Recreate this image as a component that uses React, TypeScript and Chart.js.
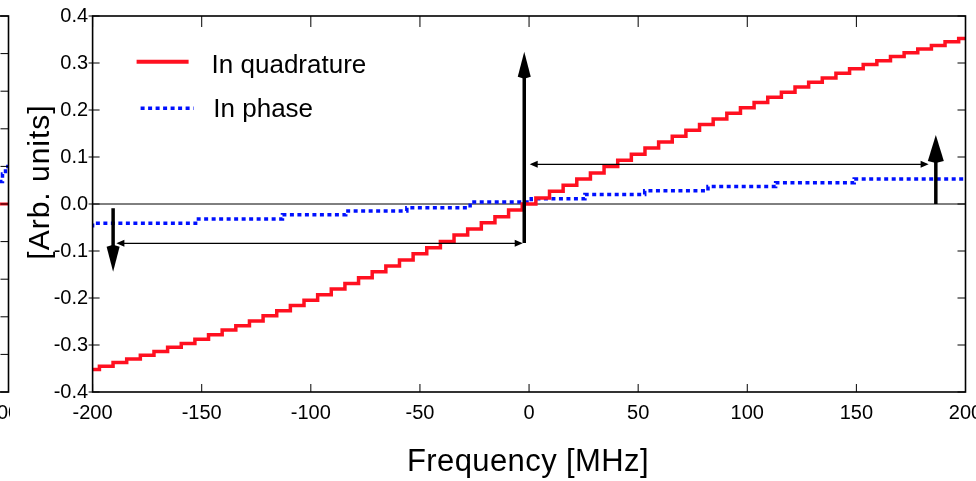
import React, { useEffect, useRef } from 'react';
import { Chart, registerables } from 'chart.js';

Chart.register(...registerables);

const FONT = '"Liberation Sans", Arial, Helvetica, sans-serif';
const RED = 'rgb(255, 16, 32)';
const BLUE = 'rgb(0, 16, 255)';

// ---- main panel data ----
const quadFreq = [
  -200, -193.75, -187.5, -181.25, -175, -168.75, -162.5, -156.25, -150, -143.75, -137.5, -131.25,
  -125, -118.75, -112.5, -106.25, -100, -93.75, -87.5, -81.25, -75, -68.75, -62.5, -56.25, -50,
  -43.75, -37.5, -31.25, -25, -18.75, -12.5, -6.25, 0, 6.25, 12.5, 18.75, 25, 31.25, 37.5, 43.75,
  50, 56.25, 62.5, 68.75, 75, 81.25, 87.5, 93.75, 100, 106.25, 112.5, 118.75, 125, 131.25, 137.5,
  143.75, 150, 156.25, 162.5, 168.75, 175, 181.25, 187.5, 193.75, 200,
];
const quadValues = [
  -0.352, -0.345, -0.337, -0.33, -0.322, -0.314, -0.305, -0.297, -0.288, -0.278, -0.268, -0.259,
  -0.249, -0.238, -0.227, -0.216, -0.205, -0.193, -0.181, -0.169, -0.157, -0.144, -0.132, -0.119,
  -0.106, -0.093, -0.08, -0.066, -0.053, -0.04, -0.027, -0.013, 0.0, 0.013, 0.027, 0.04, 0.053,
  0.066, 0.08, 0.093, 0.106, 0.119, 0.132, 0.144, 0.157, 0.169, 0.181, 0.193, 0.205, 0.216, 0.227,
  0.238, 0.249, 0.259, 0.268, 0.278, 0.288, 0.297, 0.305, 0.314, 0.322, 0.33, 0.337, 0.345, 0.352,
];
const phaseFreq = [-200, -151.5, -113, -84, -56, -27, 1, 25.6, 53, 82, 113, 149, 194, 200];
const phaseValues = [
  -0.05, -0.041, -0.032, -0.023, -0.015, -0.008, 0.004, 0.011, 0.02, 0.028, 0.037, 0.045, 0.053, 0.053,
];

const xTicks = [-200, -150, -100, -50, 0, 50, 100, 150, 200];
const xTickLabels = ['-200', '-150', '-100', '-50', '0', '50', '100', '150', '200'];
const yTicks = [-0.4, -0.3, -0.2, -0.1, 0, 0.1, 0.2, 0.3, 0.4];
const yTickLabels = ['-0.4', '-0.3', '-0.2', '-0.1', '0.0', '0.1', '0.2', '0.3', '0.4'];

// annotations (data coordinates)
const zeroLevel = [0];
const upArrowFreq = [-2.2, 186.4];
const upArrowFrom = [-0.083, 0];
const upArrowTo = [0.324, 0.147];
const downArrowFreq = [-190.6];
const downArrowFrom = [-0.009];
const downArrowTo = [-0.144];
const spanLevel = [0.0845, -0.0836];
const spanStart = [0.3, -189.1];
const spanEnd = [183.1, -2.9];

const legendLabels = ['In quadrature', 'In phase'];
const xTitle = 'Frequency [MHz]';
const yTitle = '[Arb. units]';

// ---- neighbouring (cropped) left panel ----
const leftFreq = [170, 180, 190, 200, 206, 212];
const leftQuad = [0, 0, 0, 0, 0, 0];
const leftPhase = [0.03, 0.04, 0.05, 0.06, 0.08, 0.1];
const leftYTicks = [-0.5, -0.4, -0.3, -0.2, -0.1, 0, 0.1, 0.2, 0.3, 0.4, 0.5];
const leftXTicks = [200];
const leftXTickLabels = ['200'];

function frameAndTicks(chart: any, opts: { left?: boolean; right?: boolean; top?: boolean; bottom?: boolean }) {
  const { ctx, chartArea: a, scales } = chart;
  const x = scales.x;
  const y = scales.y;
  ctx.save();
  ctx.strokeStyle = '#000';
  ctx.lineWidth = 1;
  ctx.beginPath();
  for (const t of x.ticks) {
    const px = x.getPixelForValue(t.value);
    if (opts.bottom) {
      ctx.moveTo(px, a.bottom);
      ctx.lineTo(px, a.bottom - 8);
    }
    if (opts.top) {
      ctx.moveTo(px, a.top);
      ctx.lineTo(px, a.top + 11);
    }
  }
  for (const t of y.ticks) {
    const py = y.getPixelForValue(t.value);
    if (opts.left) {
      ctx.moveTo(a.left - 4, py);
      ctx.lineTo(a.left + 7, py);
    }
    if (opts.right) {
      ctx.moveTo(a.right - 8, py);
      ctx.lineTo(a.right, py);
    }
  }
  ctx.stroke();
  ctx.lineWidth = 1.6;
  ctx.strokeRect(a.left, a.top, a.right - a.left, a.bottom - a.top);
  ctx.restore();
}

function thickArrow(ctx: CanvasRenderingContext2D, px: number, y1: number, y2: number, headLen: number, headW: number) {
  const dir = Math.sign(y2 - y1);
  const base = y2 - dir * headLen;
  ctx.lineWidth = 3.5;
  ctx.beginPath();
  ctx.moveTo(px, y1);
  ctx.lineTo(px, base + dir * 2);
  ctx.stroke();
  ctx.beginPath();
  ctx.moveTo(px, y2);
  ctx.lineTo(px - headW / 2, base);
  ctx.lineTo(px, base - dir * 2);
  ctx.lineTo(px + headW / 2, base);
  ctx.closePath();
  ctx.fill();
}

function spanArrow(ctx: CanvasRenderingContext2D, x1: number, x2: number, py: number) {
  const hl = 8;
  const hw = 3.5;
  ctx.lineWidth = 1.2;
  ctx.beginPath();
  ctx.moveTo(x1 + 2, py);
  ctx.lineTo(x2 - 2, py);
  ctx.stroke();
  ctx.beginPath();
  ctx.moveTo(x1, py);
  ctx.lineTo(x1 + hl, py - hw);
  ctx.lineTo(x1 + hl, py + hw);
  ctx.closePath();
  ctx.moveTo(x2, py);
  ctx.lineTo(x2 - hl, py - hw);
  ctx.lineTo(x2 - hl, py + hw);
  ctx.closePath();
  ctx.fill();
}

const mainDecor = {
  id: 'mainDecor',
  beforeDatasetsDraw(chart: any) {
    const { ctx, chartArea: a, scales } = chart;
    const y0 = scales.y.getPixelForValue(zeroLevel[0]);
    ctx.save();
    ctx.strokeStyle = '#000';
    ctx.lineWidth = 1;
    ctx.beginPath();
    ctx.moveTo(a.left, y0);
    ctx.lineTo(a.right, y0);
    ctx.stroke();
    ctx.restore();
  },
  afterDatasetsDraw(chart: any) {
    const { ctx, scales } = chart;
    const x = scales.x;
    const y = scales.y;
    ctx.save();
    ctx.strokeStyle = '#000';
    ctx.fillStyle = '#000';
    for (let i = 0; i < spanLevel.length; i++) {
      spanArrow(ctx, x.getPixelForValue(spanStart[i]), x.getPixelForValue(spanEnd[i]), y.getPixelForValue(spanLevel[i]));
    }
    for (let i = 0; i < upArrowFreq.length; i++) {
      thickArrow(
        ctx,
        x.getPixelForValue(upArrowFreq[i]),
        y.getPixelForValue(upArrowFrom[i]),
        y.getPixelForValue(upArrowTo[i]),
        i === 0 ? 25 : 26,
        i === 0 ? 13 : 16,
      );
    }
    for (let i = 0; i < downArrowFreq.length; i++) {
      thickArrow(
        ctx,
        x.getPixelForValue(downArrowFreq[i]),
        y.getPixelForValue(downArrowFrom[i]),
        y.getPixelForValue(downArrowTo[i]),
        25,
        13,
      );
    }
    ctx.restore();
  },
  afterDraw(chart: any) {
    const { ctx, chartArea: a } = chart;
    frameAndTicks(chart, { left: true, right: true, top: true, bottom: true });
    ctx.save();
    // legend
    const lx = a.left + 44;
    ctx.lineWidth = 4;
    ctx.strokeStyle = RED;
    ctx.beginPath();
    ctx.moveTo(lx, a.top + 45.7);
    ctx.lineTo(lx + 52, a.top + 45.7);
    ctx.stroke();
    ctx.strokeStyle = BLUE;
    ctx.lineWidth = 3.5;
    ctx.setLineDash([4, 3.5]);
    ctx.beginPath();
    ctx.moveTo(lx + 4, a.top + 92.3);
    ctx.lineTo(lx + 57, a.top + 92.3);
    ctx.stroke();
    ctx.setLineDash([]);
    ctx.fillStyle = '#000';
    ctx.font = `26px ${FONT}`;
    ctx.textAlign = 'left';
    ctx.textBaseline = 'alphabetic';
    ctx.fillText(legendLabels[0], a.left + 119, a.top + 56.7);
    ctx.fillText(legendLabels[1], a.left + 120.7, a.top + 100.5);
    // axis titles
    ctx.textAlign = 'center';
    ctx.font = `31px ${FONT}`;
    (ctx as any).letterSpacing = '0.4px';
    ctx.fillText(xTitle, 528, 471);
    ctx.translate(49, 182);
    ctx.rotate(-Math.PI / 2);
    ctx.font = `30px ${FONT}`;
    (ctx as any).letterSpacing = '1px';
    ctx.fillText(yTitle, 0, 0);
    ctx.restore();
  },
};

const leftDecor = {
  id: 'leftDecor',
  afterDraw(chart: any) {
    frameAndTicks(chart, { right: true });
  },
};

export default function App() {
  const mainRef = useRef<HTMLCanvasElement | null>(null);
  const leftRef = useRef<HTMLCanvasElement | null>(null);

  useEffect(() => {
    if (!mainRef.current || !leftRef.current) return;
    const tickFont = { family: FONT, size: 20 };

    const main = new Chart(mainRef.current, {
      type: 'line',
      data: {
        datasets: [
          {
            label: legendLabels[0],
            data: quadFreq.map((f, i) => ({ x: f, y: quadValues[i] })),
            borderColor: RED,
            borderWidth: 3.5,
            stepped: 'middle',
            pointRadius: 0,
            fill: false,
          },
          {
            label: legendLabels[1],
            data: phaseFreq.map((f, i) => ({ x: f, y: phaseValues[i] })),
            borderColor: BLUE,
            borderWidth: 3.5,
            borderDash: [4, 3.5],
            stepped: 'after',
            pointRadius: 0,
            fill: false,
          },
        ],
      },
      options: {
        animation: false,
        responsive: false,
        devicePixelRatio: 1,
        layout: { padding: { left: 0, right: 10.5, top: 16, bottom: 0 } },
        plugins: { legend: { display: false }, tooltip: { enabled: false } },
        scales: {
          x: {
            type: 'linear',
            min: -200,
            max: 200,
            grid: { display: false, drawTicks: false },
            border: { display: false },
            ticks: {
              font: tickFont,
              color: '#000',
              padding: 9,
              maxRotation: 0,
              autoSkip: false,
              callback: (_v: any, i: number) => xTickLabels[i],
            },
            afterBuildTicks: (s: any) => {
              s.ticks = xTicks.map((v) => ({ value: v }));
            },
            afterFit: (s: any) => {
              s.height = 89;
              s.paddingLeft = 0;
              s.paddingRight = 0;
            },
          },
          y: {
            type: 'linear',
            min: -0.4,
            max: 0.4,
            grid: { display: false, drawTicks: false },
            border: { display: false },
            ticks: {
              font: tickFont,
              color: '#000',
              padding: 4.5,
              autoSkip: false,
              callback: (_v: any, i: number) => yTickLabels[i],
            },
            afterBuildTicks: (s: any) => {
              s.ticks = yTicks.map((v) => ({ value: v }));
            },
            afterFit: (s: any) => {
              s.width = 92.6;
              s.paddingTop = 0;
              s.paddingBottom = 0;
            },
          },
        },
      },
      plugins: [mainDecor],
    } as any);

    const left = new Chart(leftRef.current, {
      type: 'line',
      data: {
        datasets: [
          {
            data: leftFreq.map((f, i) => ({ x: f, y: leftQuad[i] })),
            borderColor: RED,
            borderWidth: 3,
            pointRadius: 0,
            fill: false,
          },
          {
            data: leftFreq.map((f, i) => ({ x: f, y: leftPhase[i] })),
            borderColor: BLUE,
            borderWidth: 3.5,
            borderDash: [4, 3.5],
            stepped: 'after',
            pointRadius: 0,
            fill: false,
          },
        ],
      },
      options: {
        animation: false,
        responsive: false,
        devicePixelRatio: 1,
        layout: { padding: { left: 0, right: 1.5, top: 16, bottom: 0 } },
        plugins: { legend: { display: false }, tooltip: { enabled: false } },
        scales: {
          x: {
            type: 'linear',
            min: -200,
            max: 212,
            grid: { display: false, drawTicks: false },
            border: { display: false },
            ticks: {
              font: tickFont,
              color: '#000',
              padding: 9,
              maxRotation: 0,
              autoSkip: false,
              callback: (_v: any, i: number) => leftXTickLabels[i],
            },
            afterBuildTicks: (s: any) => {
              s.ticks = leftXTicks.map((v) => ({ value: v }));
            },
            afterFit: (s: any) => {
              s.height = 89;
              s.paddingLeft = 0;
              s.paddingRight = 0;
            },
          },
          y: {
            type: 'linear',
            min: -0.5,
            max: 0.5,
            grid: { display: false, drawTicks: false },
            border: { display: false },
            ticks: { display: false },
            afterBuildTicks: (s: any) => {
              s.ticks = leftYTicks.map((v) => ({ value: v }));
            },
            afterFit: (s: any) => {
              s.width = 92;
              s.paddingTop = 0;
              s.paddingBottom = 0;
            },
          },
        },
      },
      plugins: [leftDecor],
    } as any);

    return () => {
      main.destroy();
      left.destroy();
    };
  }, []);

  return (
    <div style={{ position: 'absolute', left: 0, top: 0, width: 976, height: 481, overflow: 'hidden', background: '#fff' }}>
      <canvas ref={leftRef} width={300} height={481} style={{ position: 'absolute', left: -290, top: 0 }} />
      <canvas ref={mainRef} width={976} height={481} style={{ position: 'absolute', left: 0, top: 0 }} />
    </div>
  );
}
